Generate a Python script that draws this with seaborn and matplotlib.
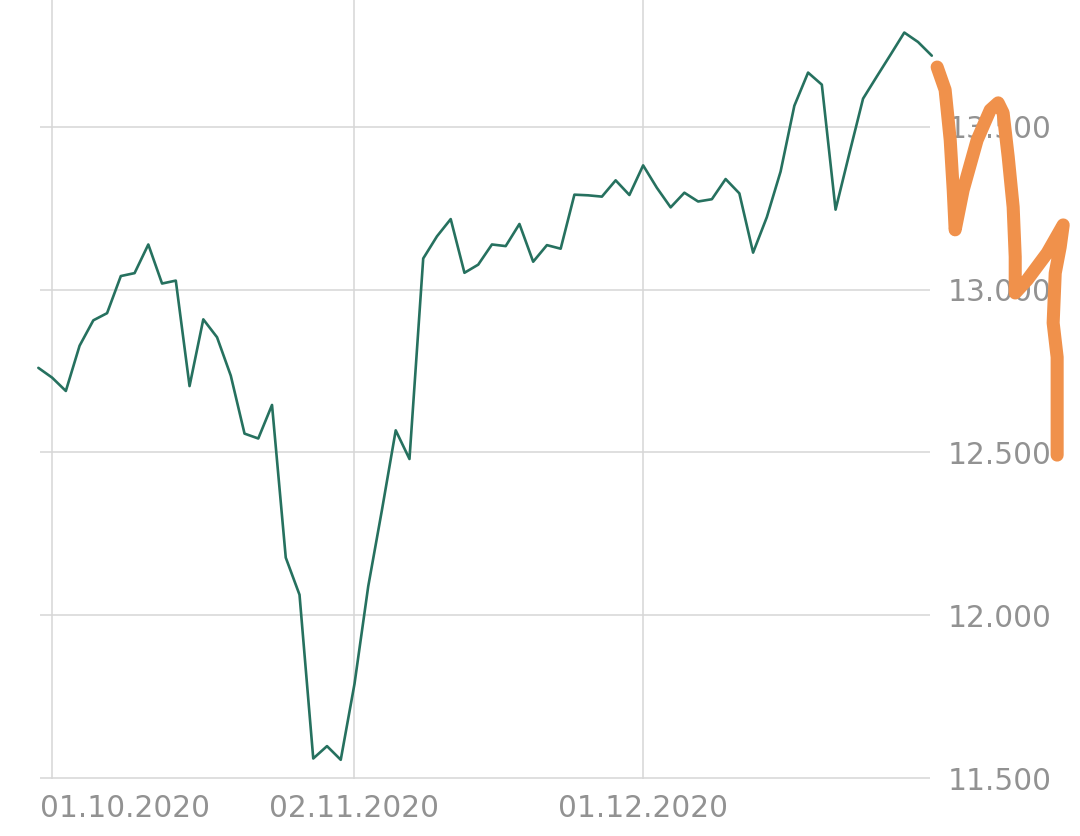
import matplotlib
matplotlib.use("Agg")
import matplotlib.pyplot as plt
import matplotlib.transforms as mtransforms
import seaborn as sns
import numpy as np
import pandas as pd

# closing values, one per weekday from 30.09.2020 to 30.12.2020
dates = pd.bdate_range("2020-09-30", "2020-12-30")
closes = [
    12760,
    # October
    12730, 12689, 12828, 12906, 12928, 13042, 13051, 13139, 13019, 13028,
    12704, 12909, 12854, 12736, 12558, 12543, 12646, 12177, 12063, 11560,
    11598, 11556,
    # November
    11789, 12089, 12324, 12568, 12480, 13096, 13164, 13217, 13052, 13077,
    13139, 13134, 13202, 13086, 13137, 13126, 13292, 13290, 13286, 13336,
    13291,
    # December
    13382, 13313, 13253, 13298, 13271, 13278, 13340, 13296, 13114, 13223,
    13363, 13565, 13667, 13630, 13246, 13418, 13587, 13655, 13722, 13790,
    13761, 13719,
]

# hand drawn orange scribble (in weekday index / index points)
scribble_x = [65.39, 65.97, 66.34, 66.56, 66.70, 67.28, 68.30, 69.25, 69.83,
              70.19, 70.56, 70.92, 71.07, 71.07, 71.94, 73.40, 74.56, 74.34,
              73.98, 73.83, 74.12, 74.12, 74.12]
scribble_y = [13684, 13614, 13460, 13306, 13184, 13306, 13460, 13552, 13574,
              13543, 13408, 13254, 13101, 12990, 13030, 13113, 13199, 13131,
              13051, 12898, 12793, 12640, 12492]

x_tick_dates = ["2020-10-01", "2020-11-02", "2020-12-01"]
y_ticks = [11500, 12000, 12500, 13000, 13500]

df = pd.DataFrame({"idx": np.arange(len(dates)), "close": closes})

sns.set_style("white")
plt.rcParams["font.family"] = ["DejaVu Sans"]

fig = plt.figure(figsize=(10.8, 8.36), dpi=100)
ax = fig.add_axes([40 / 1080, 57 / 836, 890 / 1080, 779 / 836])

sns.lineplot(df, x="idx", y="close", color="#26715f", linewidth=1.9,
             clip_on=False, ax=ax)
sns.lineplot(x=scribble_x, y=scribble_y, sort=False, estimator=None,
             color="#f0914b", linewidth=9.4, solid_capstyle="round",
             solid_joinstyle="round", clip_on=False, zorder=5, ax=ax)

ax.set_xlim(0.12, 64.87)
ax.set_ylim(11497, 13890)

tick_pos = [dates.get_loc(pd.Timestamp(d)) for d in x_tick_dates]
ax.set_xticks(tick_pos)
ax.set_xticklabels([pd.Timestamp(d).strftime("%d.%m.%Y") for d in x_tick_dates])
ax.set_yticks(y_ticks)
ax.set_yticklabels([f"{v:,.0f}".replace(",", ".") for v in y_ticks])
ax.yaxis.tick_right()

ax.set_axisbelow(True)
ax.grid(True, color="#d6d6d6", linewidth=1.1)
for spine in ax.spines.values():
    spine.set_visible(False)
ax.tick_params(axis="both", length=0, labelsize=21.3, labelcolor="#929292")
ax.tick_params(axis="x", pad=10.5)
ax.tick_params(axis="y", pad=13)
ax.set_xlabel("")
ax.set_ylabel("")

# first date label is pushed right so it stays inside the chart
first = ax.get_xticklabels()[0]
first.set_horizontalalignment("left")
first.set_transform(first.get_transform()
                    + mtransforms.ScaledTranslation(-0.12, 0, fig.dpi_scale_trans))

fig.savefig("out.png", dpi=100)
